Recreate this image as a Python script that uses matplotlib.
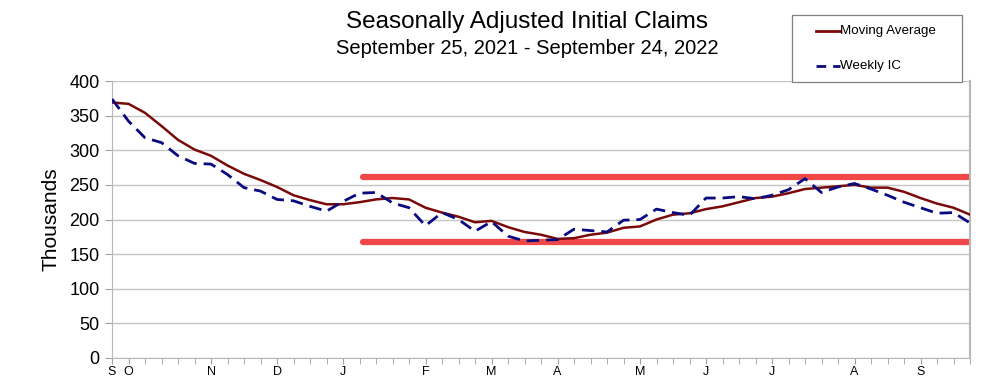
import matplotlib
matplotlib.use("Agg")
import matplotlib.pyplot as plt
from matplotlib.lines import Line2D
from matplotlib.patches import Rectangle
import numpy as np

plt.rcParams['font.family'] = ['Liberation Sans', 'DejaVu Sans']

# Weeks from Sep 25, 2021 to Sep 24, 2022 (53 weekly points)
weeks = np.arange(53)
moving_average = [369, 367, 354, 335, 315, 301, 292, 278, 266, 257,
                  247, 235, 228, 222, 222, 225, 229, 231, 229, 217,
                  210, 204, 196, 198, 189, 182, 178, 172, 173, 178,
                  181, 188, 190, 200, 207, 209, 215, 219, 225, 231,
                  233, 238, 244, 246, 248, 250, 246, 246, 240, 231,
                  223, 217, 207]
weekly_ic = [374, 342, 318, 311, 292, 281, 280, 265, 246, 241,
             229, 227, 219, 212, 226, 238, 239, 224, 217, 191,
             210, 200, 183, 197, 176, 169, 170, 171, 186, 184,
             182, 199, 200, 215, 210, 206, 231, 231, 233, 230,
             235, 243, 259, 239, 247, 252, 244, 235, 225, 217,
             209, 210, 195]

# Month labels at first week of each month
month_tick_weeks = [0, 1, 6, 10, 14, 19, 23, 27, 32, 36, 40, 45, 49]
month_labels = ['S', 'O', 'N', 'D', 'J', 'F', 'M', 'A', 'M', 'J', 'J', 'A', 'S']

series_names = ['Moving Average', 'Weekly IC']

# Red range lines
band_levels = [261, 167]
band_start = 15.2
band_end = 52

MA_COLOR = '#7a0a0a'
IC_COLOR = '#0a0a80'
IC_DASH = (0, (4.5, 2.5))

W, H = 996, 382
fig = plt.figure(figsize=(W / 100, H / 100), dpi=100)
ax = fig.add_axes([112 / W, 1 - 358 / H, (970 - 112) / W, (358 - 81) / H])

ax.plot(weeks, moving_average, color=MA_COLOR, lw=1.8, zorder=3)
ax.plot(weeks, weekly_ic, color=IC_COLOR, lw=2.0, ls=IC_DASH, zorder=4)
for lvl in band_levels:
    ax.plot([band_start, band_end], [lvl, lvl], color='#f04848', lw=4.5,
            solid_capstyle='round', zorder=2)

ax.set_xlim(0, 52)
ax.set_ylim(0, 400)
ax.set_yticks(np.arange(0, 401, 50))
ax.yaxis.grid(True, color='#c4c4c4', lw=1.0)
ax.set_axisbelow(True)
ax.set_xticks(weeks, minor=True)
ax.set_xticks(month_tick_weeks)
ax.set_xticklabels(month_labels)
ax.tick_params(axis='x', which='major', length=4, color='#a0a0a0',
               labelsize=9, pad=2)
ax.tick_params(axis='x', which='minor', length=4, color='#a0a0a0')
ax.tick_params(axis='y', length=5, color='#a0a0a0', labelsize=13, pad=4)
for side in ['left', 'right', 'bottom']:
    ax.spines[side].set_color('#b8b8b8')
ax.spines['top'].set_visible(False)
ax.spines['right'].set_linewidth(1.5)

ax.set_ylabel('Thousands', fontsize=15, labelpad=6)

fig.text(527 / W, 1 - 22 / H, 'Seasonally Adjusted Initial Claims',
         ha='center', va='center', fontsize=17.5)
fig.text(527 / W, 1 - 48 / H, 'September 25, 2021 - September 24, 2022',
         ha='center', va='center', fontsize=14.5)

# Legend box drawn in figure pixels
fig.patches.append(Rectangle((792 / W, 1 - 82 / H), (962 - 792) / W, (82 - 15) / H,
                             transform=fig.transFigure, facecolor='white',
                             edgecolor='#808080', lw=0.9, zorder=5))
for y_px, name, color, ls in [(31, series_names[0], MA_COLOR, '-'),
                              (66, series_names[1], IC_COLOR, (0, (3.5, 2.5)))]:
    fig.add_artist(Line2D([816 / W, 840 / W], [1 - y_px / H, 1 - y_px / H],
                          transform=fig.transFigure, color=color, lw=2.0,
                          ls=ls, zorder=6))
    fig.text(840 / W, 1 - y_px / H, name, ha='left', va='center',
             fontsize=9.6, zorder=6)

fig.savefig('out.png', dpi=100)
